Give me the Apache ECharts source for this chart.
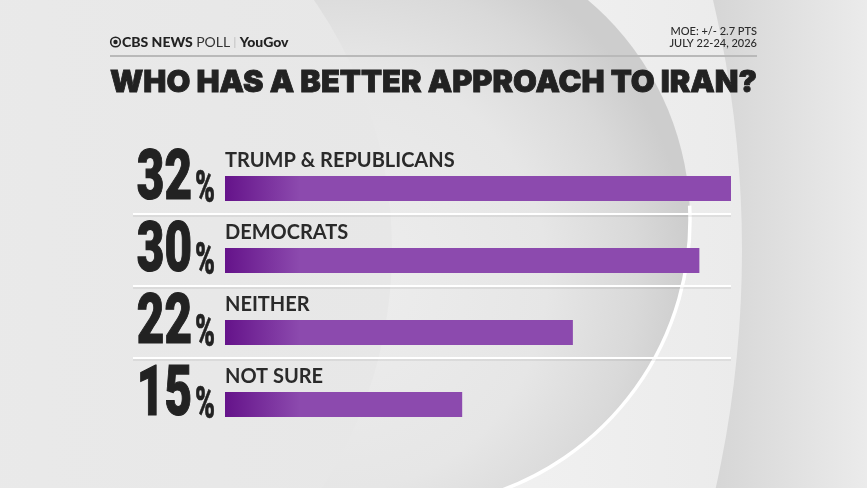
<!DOCTYPE html>
<html>
<head>
<meta charset="utf-8">
<script src="https://cdn.jsdelivr.net/npm/echarts@6/dist/echarts.min.js"></script>
<style>
html,body{margin:0;padding:0;background:#e9e9e9;}
#chart{width:867px;height:488px;}
</style>
</head>
<body>
<div id="chart"></div>
<script>
var categories = ['TRUMP & REPUBLICANS', 'DEMOCRATS', 'NEITHER', 'NOT SURE'];
var values = [32, 30, 22, 15];
var titleText = 'WHO HAS A BETTER APPROACH TO IRAN?';
var moeText = 'MOE: +/- 2.7 PTS';
var dateText = 'JULY 22-24, 2026';

var chart = echarts.init(document.getElementById('chart'), null, {renderer: 'canvas'});

function measure(text, font) {
  var ctx = document.createElement('canvas').getContext('2d');
  ctx.font = font;
  return ctx.measureText(text).width;
}

var bgGraphics = [
  {type: 'rect', silent: true, z: -10, shape: {x: 0, y: 0, width: 867, height: 488},
   style: {fill: new echarts.graphic.LinearGradient(0, 0, 1, 0, [
     {offset: 0, color: '#ececec'}, {offset: 0.8, color: '#d3d3d3'}, {offset: 1, color: '#ebebeb'}])}},
  {type: 'circle', silent: true, z: -9, shape: {cx: -350, cy: 250, r: 1092},
   style: {fill: new echarts.graphic.LinearGradient(0, 0, 1, 0, [
     {offset: 0, color: '#ededed'}, {offset: 0.85, color: '#f3f3f3'}, {offset: 1, color: '#ebebeb'}])}},
  {type: 'circle', silent: true, z: -8, shape: {cx: 402, cy: 220, r: 288},
   style: {fill: new echarts.graphic.RadialGradient(0.38, 0.6, 0.62, [
     {offset: 0, color: '#eeeeee'}, {offset: 0.6, color: '#e6e6e6'}, {offset: 0.85, color: '#d9d9d9'}, {offset: 1, color: '#cdcdcd'}])}},
  {type: 'arc', silent: true, z: -8, shape: {cx: 402, cy: 220, r: 288, startAngle: -0.05, endAngle: 1.3},
   style: {fill: 'none', stroke: '#ffffff', lineWidth: 3.5}},
  {type: 'circle', silent: true, z: -7, shape: {cx: -47, cy: 250, r: 439},
   style: {fill: new echarts.graphic.LinearGradient(0, 0, 1, 0, [
     {offset: 0, color: '#ececec'}, {offset: 1, color: '#e7e7e7'}])}}
];

var titleFont = '900 30px Inter, Lato, sans-serif';
var titleScale = 647 / measure(titleText, titleFont);

var headerGraphics = [
  {type: 'circle', silent: true, shape: {cx: 115.5, cy: 42, r: 4.8}, style: {fill: 'none', stroke: '#222', lineWidth: 1.6}},
  {type: 'circle', silent: true, shape: {cx: 115.5, cy: 42, r: 2.2}, style: {fill: '#222'}},
  {type: 'text', silent: true, x: 122, y: 42, style: {
    text: '{b|CBS NEWS} {r|POLL} {s||} {b|YouGov}', verticalAlign: 'middle', align: 'left',
    rich: {
      b: {fontFamily: 'Lato', fontWeight: 900, fontSize: 14, fill: '#222'},
      r: {fontFamily: 'Lato', fontWeight: 400, fontSize: 14, fill: '#333'},
      s: {fontFamily: 'Lato', fontWeight: 300, fontSize: 12, fill: '#999'}
    }}},
  {type: 'text', silent: true, x: 757, y: 31, style: {text: moeText, align: 'right', verticalAlign: 'middle',
    fontFamily: 'Lato', fontWeight: 500, fontSize: 11, fill: '#2a2a2a'}},
  {type: 'text', silent: true, x: 757, y: 43, style: {text: dateText, align: 'right', verticalAlign: 'middle',
    fontFamily: 'Lato', fontWeight: 500, fontSize: 11, fill: '#2a2a2a'}},
  {type: 'rect', silent: true, shape: {x: 110, y: 55, width: 647, height: 2}, style: {fill: '#b9b9b9'}},
  {type: 'text', silent: true, x: 110, y: 83, scaleX: titleScale, style: {text: titleText, align: 'left', verticalAlign: 'middle',
    font: titleFont, fill: '#222', stroke: '#222', lineWidth: 0.8}}
];

var barGradient = new echarts.graphic.LinearGradient(225, 0, 300, 0, [
  {offset: 0, color: '#65138a'}, {offset: 1, color: '#8c4aae'}], true);

chart.setOption({
  animation: false,
  grid: {left: 225, right: 136, top: 152.5, height: 288, containLabel: false},
  xAxis: {type: 'value', min: 0, max: 32, show: false},
  yAxis: {
    type: 'category', data: categories, inverse: true,
    axisLine: {show: false}, axisTick: {show: false}, splitLine: {show: false},
    axisLabel: {
      inside: true, margin: 0, verticalAlign: 'bottom', lineHeight: 22,
      padding: [0, 0, 17, 0],
      fontFamily: 'Lato', fontWeight: 700, fontSize: 20, color: '#2a2a2a'
    }
  },
  series: [{
    type: 'bar', data: values, barWidth: 25,
    itemStyle: {color: barGradient, shadowBlur: 6, shadowOffsetY: 4, shadowColor: 'rgba(0,0,0,0.35)'},
    label: {show: false}
  }],
  graphic: bgGraphics.concat(headerGraphics)
});

// separator lines and big percentage numbers placed from the library's scales
var extra = [];
var x0 = chart.convertToPixel({xAxisIndex: 0}, 0);
for (var i = 0; i < categories.length; i++) {
  var c = chart.convertToPixel({yAxisIndex: 0}, categories[i]);
  if (i < categories.length - 1) {
    var y = Math.round(c + 25);
    extra.push({type: 'rect', silent: true, shape: {x: 133, y: y + 1, width: 598, height: 2}, style: {fill: 'rgba(0,0,0,0.06)'}});
    extra.push({type: 'rect', silent: true, shape: {x: 133, y: y - 1, width: 598, height: 2}, style: {fill: '#ffffff'}});
  }
  extra.push({type: 'text', silent: true, x: x0 - 33, y: c - 7, scaleX: 0.68, style: {
    text: String(values[i]), align: 'right', verticalAlign: 'middle',
    font: '900 70px Roboto, sans-serif', fill: '#222', stroke: '#222', lineWidth: 1.2,
    shadowColor: 'rgba(0,0,0,0.25)', shadowBlur: 4, shadowOffsetY: 2}});
  extra.push({type: 'text', silent: true, x: x0 - 10, y: c + 2.5, scaleX: 0.6, style: {
    text: '%', align: 'right', verticalAlign: 'middle',
    font: '900 45px Roboto, sans-serif', fill: '#222', stroke: '#222', lineWidth: 0.6,
    shadowColor: 'rgba(0,0,0,0.25)', shadowBlur: 3, shadowOffsetY: 2}});
}
chart.setOption({graphic: bgGraphics.concat(headerGraphics, extra)});
</script>
</body>
</html>
